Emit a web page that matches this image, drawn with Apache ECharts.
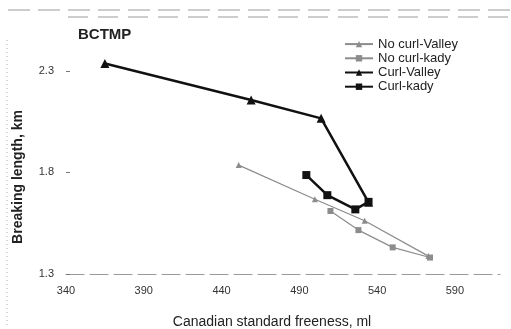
<!DOCTYPE html>
<html>
<head>
<meta charset="utf-8">
<script src="https://cdn.jsdelivr.net/npm/echarts@6/dist/echarts.min.js"></script>
<style>
  html, body { margin: 0; padding: 0; background: #fff; }
  #chart { width: 511px; height: 329px; }
</style>
</head>
<body>
<div id="chart"></div>
<script>
// Breaking length vs. Canadian standard freeness for BCTMP pulps
const seriesNames = ['No curl-Valley', 'No curl-kady', 'Curl-Valley', 'Curl-kady'];

const noCurlValleyCsf = [451, 500, 532, 573];
const noCurlValleyBl  = [1.836, 1.668, 1.562, 1.388];

const noCurlKadyCsf = [510, 528, 550, 574];
const noCurlKadyBl  = [1.610, 1.516, 1.431, 1.381];

const curlValleyCsf = [365, 459, 504, 534.5];
const curlValleyBl  = [2.336, 2.156, 2.066, 1.653];

const curlKadyCsf = [494.5, 508, 526, 534.5];
const curlKadyBl  = [1.787, 1.688, 1.618, 1.655];

const xTicks = [340, 390, 440, 490, 540, 590];
const yTicks = [1.3, 1.8, 2.3];

const pairs = (xs, ys) => xs.map((x, i) => [x, ys[i]]);

const font = '"Liberation Sans", Arial, sans-serif';
const gray = '#8c8c8c';
const black = '#111';

const chart = echarts.init(document.getElementById('chart'), null, { renderer: 'canvas' });

chart.setOption({
  backgroundColor: '#fff',
  animation: false,
  title: {
    text: 'BCTMP',
    left: 73,
    top: 22,
    textStyle: { fontFamily: font, fontSize: 15, fontWeight: 'bold', color: '#222' }
  },
  legend: {
    data: seriesNames,
    orient: 'vertical',
    left: 344,
    top: 37,
    padding: 0,
    itemWidth: 28,
    itemHeight: 8,
    itemGap: 0,
    textStyle: { fontFamily: font, fontSize: 13, color: '#222', lineHeight: 14.2 }
  },
  grid: { left: 66, right: 11, top: 20, bottom: 55, containLabel: false, outerBoundsMode: 'none' },
  xAxis: {
    type: 'value',
    min: xTicks[0],
    max: 619,
    interval: xTicks[1] - xTicks[0],
    name: 'Canadian standard freeness, ml',
    nameLocation: 'middle',
    nameGap: 41,
    nameTextStyle: { fontFamily: font, fontSize: 14, color: '#222', padding: [0, 22, 0, 0] },
    axisLine: { show: true, lineStyle: { color: '#999', width: 1, type: [18, 6] } },
    axisTick: { show: false },
    splitLine: { show: false },
    axisLabel: {
      fontFamily: font, fontSize: 11, color: '#333', margin: 11,
      showMaxLabel: false,
      formatter: v => (xTicks.includes(v) ? String(v) : '')
    }
  },
  yAxis: {
    type: 'value',
    min: yTicks[0],
    max: 2.55,
    interval: yTicks[1] - yTicks[0],
    name: 'Breaking length, km',
    nameLocation: 'middle',
    nameGap: 41,
    nameTextStyle: { fontFamily: font, fontSize: 14, fontWeight: 'bold', color: '#222', padding: [0, 60, 0, 0] },
    axisLine: { show: false },
    axisTick: { show: true, inside: true, length: 4, lineStyle: { color: '#777' } },
    splitLine: { show: false },
    axisLabel: {
      fontFamily: font, fontSize: 11, color: '#333', margin: 12,
      showMaxLabel: false,
      formatter: v => (yTicks.some(t => Math.abs(t - v) < 1e-6) ? v.toFixed(1) : '')
    }
  },
  graphic: [
    // faint border fragments around the figure
    { type: 'line', shape: { x1: 8, y1: 10, x2: 511, y2: 10 }, style: { stroke: '#9a9a9a', lineWidth: 1, lineDash: [22, 8] }, silent: true },
    { type: 'line', shape: { x1: 68, y1: 17, x2: 511, y2: 17 }, style: { stroke: '#9a9a9a', lineWidth: 1, lineDash: [20, 10] }, silent: true },
    { type: 'line', shape: { x1: 7, y1: 40, x2: 7, y2: 325 }, style: { stroke: '#b0b0b0', lineWidth: 1, lineDash: [1, 3] }, silent: true }
  ],
  series: [
    {
      name: seriesNames[0], type: 'line', data: pairs(noCurlValleyCsf, noCurlValleyBl),
      symbol: 'triangle', symbolSize: 6,
      lineStyle: { color: gray, width: 1.2 }, itemStyle: { color: gray }
    },
    {
      name: seriesNames[1], type: 'line', data: pairs(noCurlKadyCsf, noCurlKadyBl),
      symbol: 'rect', symbolSize: 6,
      lineStyle: { color: gray, width: 1.2 }, itemStyle: { color: gray }
    },
    {
      name: seriesNames[2], type: 'line', data: pairs(curlValleyCsf, curlValleyBl),
      symbol: 'triangle', symbolSize: 9,
      lineStyle: { color: black, width: 2.5 }, itemStyle: { color: black }
    },
    {
      name: seriesNames[3], type: 'line', data: pairs(curlKadyCsf, curlKadyBl),
      symbol: 'rect', symbolSize: 8,
      lineStyle: { color: black, width: 2.5 }, itemStyle: { color: black }
    }
  ]
});
</script>
</body>
</html>
